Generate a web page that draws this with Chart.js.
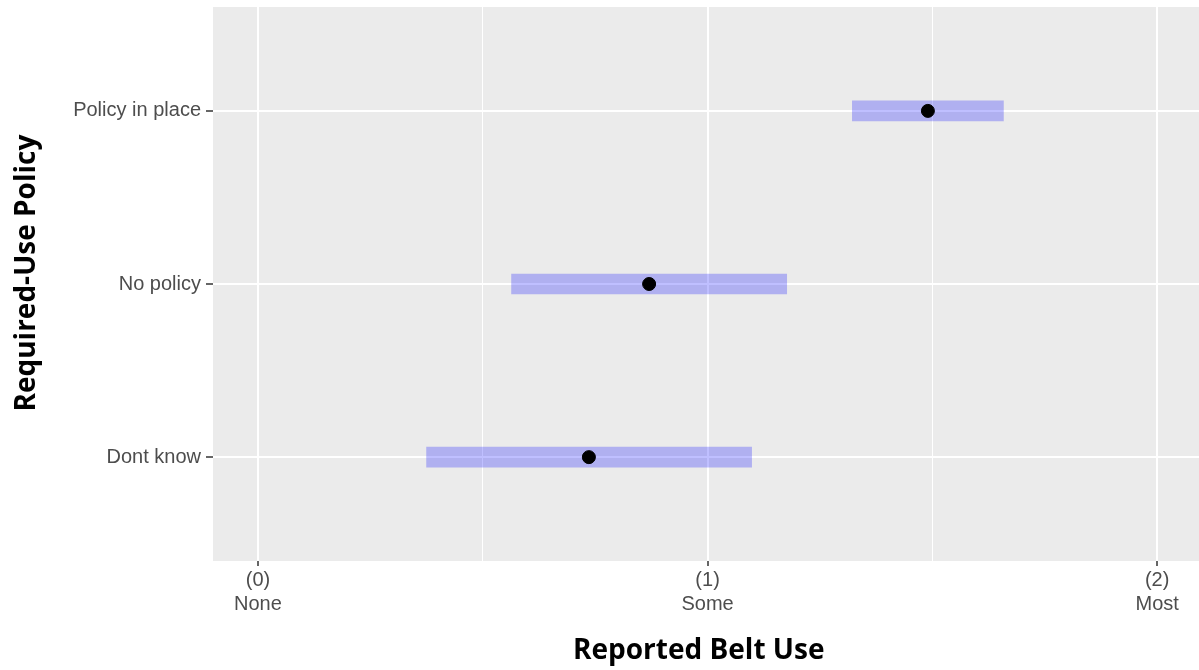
<!DOCTYPE html>
<html>
<head>
<meta charset="utf-8">
<script src="https://cdn.jsdelivr.net/npm/chart.js@4/dist/chart.umd.min.js"></script>
<style>
  html, body { margin: 0; padding: 0; background: #fff; }
  #wrap { width: 1199px; height: 670px; }
</style>
</head>
<body>
<div id="wrap"><canvas id="chart"></canvas></div>
<script>
// Data
const groups = ['Dont know', 'No policy', 'Policy in place'];
const groupPos = [1, 2, 3];
const lowerBound = [0.375, 0.564, 1.322];
const upperBound = [1.098, 1.176, 1.658];
const meanUse = [0.736, 0.870, 1.490];
const xTickValues = [0, 0.5, 1, 1.5, 2];
const xTickLabels = { 0: ['(0)', 'None'], 1: ['(1)', 'Some'], 2: ['(2)', 'Most'] };

// Grey panel behind everything
const panelBg = {
    id: 'panelBg',
    beforeDraw(chart) {
        const { ctx, chartArea: a } = chart;
        ctx.save();
        ctx.fillStyle = '#ebebeb';
        ctx.fillRect(a.left, a.top, a.right - a.left, a.bottom - a.top);
        ctx.restore();
    }
};

const isMajor = v => Math.abs(v - Math.round(v)) < 1e-9;

// drop the automatic label overflow padding so the panel sits where ggplot puts it
function noPad(s) {
    s.paddingLeft = 0;
    s.paddingRight = 0;
    s.paddingTop = 0;
    s.paddingBottom = 0;
}

new Chart(document.getElementById('chart'), {
    data: {
        datasets: [
            {
                type: 'bar',
                data: groupPos.map((y, i) => ({ x: [lowerBound[i], upperBound[i]], y: y })),
                backgroundColor: 'rgba(0, 0, 255, 0.25)',
                borderWidth: 0,
                barThickness: 20,
                order: 2
            },
            {
                type: 'scatter',
                data: groupPos.map((y, i) => ({ x: meanUse[i], y: y })),
                backgroundColor: '#000',
                borderColor: '#000',
                pointRadius: 6.5,
                order: 1
            }
        ]
    },
    options: {
        indexAxis: 'y',
        responsive: true,
        maintainAspectRatio: false,
        animation: false,
        layout: { autoPadding: false, padding: { top: 7, right: 0, left: 0, bottom: 0 } },
        plugins: { legend: { display: false }, tooltip: { enabled: false } },
        scales: {
            x: {
                type: 'linear',
                min: -0.1,
                max: 2.093,
                afterBuildTicks: s => { s.ticks = xTickValues.map(v => ({ value: v })); },
                afterFit: s => { s.height = 109; noPad(s); },
                border: { display: false },
                grid: {
                    color: '#ffffff',
                    lineWidth: c => isMajor(c.tick.value) ? 2 : 1,
                    drawTicks: true,
                    tickLength: 5,
                    tickWidth: 1.5,
                    tickColor: c => isMajor(c.tick.value) ? '#333333' : 'rgba(0,0,0,0)'
                },
                ticks: {
                    autoSkip: false,
                    maxRotation: 0,
                    padding: 2,
                    color: '#4d4d4d',
                    font: { family: 'Liberation Sans', size: 20 },
                    callback: v => xTickLabels[v] || ''
                },
                title: {
                    display: true,
                    text: 'Reported Belt Use  ',
                    color: '#000',
                    font: { family: 'Open Sans', size: 28, weight: 'bold' },
                    padding: { top: 0, bottom: 2 }
                }
            },
            y: {
                type: 'linear',
                offset: false,
                min: 0.4,
                max: 3.6,
                afterBuildTicks: s => { s.ticks = groupPos.map(v => ({ value: v })); },
                afterFit: s => { s.width = 213; noPad(s); },
                border: { display: false },
                grid: {
                    offset: false,
                    color: '#ffffff',
                    lineWidth: 2,
                    drawTicks: true,
                    tickLength: 7,
                    tickWidth: 1.5,
                    tickColor: '#333333'
                },
                ticks: {
                    autoSkip: false,
                    padding: 5,
                    color: '#4d4d4d',
                    font: { family: 'Liberation Sans', size: 20 },
                    callback: v => groups[groupPos.indexOf(v)] || ''
                },
                title: {
                    display: true,
                    text: '   Required-Use Policy',
                    color: '#000',
                    font: { family: 'Open Sans', size: 28, weight: 'bold' },
                    padding: { top: 10, bottom: 0 }
                }
            }
        }
    },
    plugins: [panelBg]
});
</script>
</body>
</html>
